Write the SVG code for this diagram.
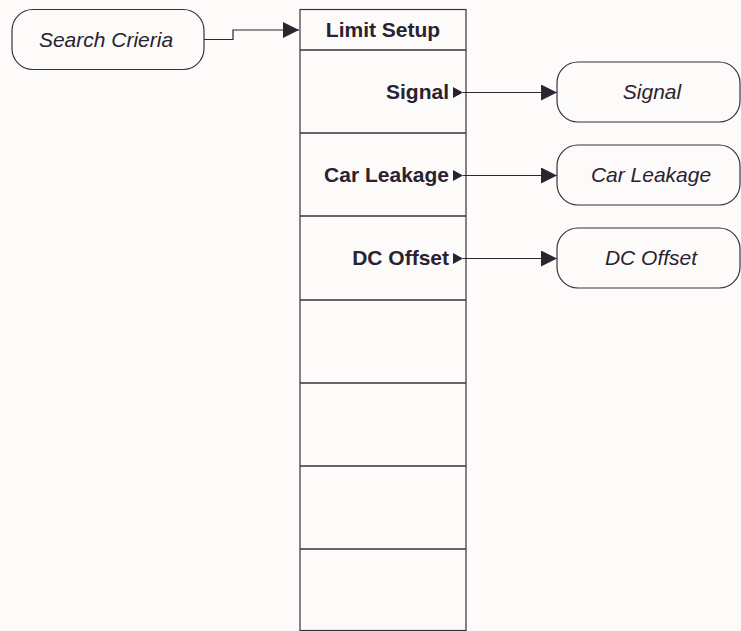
<svg xmlns="http://www.w3.org/2000/svg" width="741" height="631" viewBox="0 0 741 631">
  <defs>
    <style>
      .bg { fill: #fcfbfa; }
      .box { fill: #fcfbfa; stroke: #3a3040; stroke-width: 1.2; }
      .rule { stroke: #3a3040; stroke-width: 1.4; fill: none; }
      .wire { stroke: #2e2430; stroke-width: 1.2; fill: none; }
      .soft { fill: #2a2230; }
      .key { font-family: "Liberation Sans", Arial, sans-serif; font-weight: bold; font-size: 21px; fill: #2a2230; }
      .term { font-family: "Liberation Sans", Arial, sans-serif; font-style: italic; font-size: 21px; fill: #2a2230; text-anchor: middle; }
    </style>
    <marker id="head" markerUnits="userSpaceOnUse" markerWidth="16" markerHeight="16" viewBox="0 0 15 15" refX="15" refY="7.5" orient="auto">
      <path d="M0,0 L15,7.5 L0,15 Z" fill="#2e2430"/>
    </marker>
  </defs>

  <rect class="bg" x="0" y="0" width="741" height="631"/>

  <!-- Source node -->
  <g id="search-criteria">
    <rect class="box" x="12" y="9.5" width="192" height="60" rx="21" ry="21"/>
    <text class="term" x="106" y="47">Search Crieria</text>
  </g>

  <!-- Softkey menu -->
  <g id="limit-setup">
    <rect class="box" x="300" y="9.5" width="166" height="621"/>
    <line class="rule" x1="300" y1="50" x2="466" y2="50"/>
    <line class="rule" x1="300" y1="133" x2="466" y2="133"/>
    <line class="rule" x1="300" y1="216" x2="466" y2="216"/>
    <line class="rule" x1="300" y1="300" x2="466" y2="300"/>
    <line class="rule" x1="300" y1="383" x2="466" y2="383"/>
    <line class="rule" x1="300" y1="466" x2="466" y2="466"/>
    <line class="rule" x1="300" y1="549" x2="466" y2="549"/>
    <text class="key" x="383" y="37" text-anchor="middle">Limit Setup</text>
    <text class="key" x="449" y="99" text-anchor="end">Signal</text>
    <polygon class="soft" points="453,87 463,92.5 453,98"/>
    <text class="key" x="449" y="182" text-anchor="end">Car Leakage</text>
    <polygon class="soft" points="453,170 463,175.5 453,181"/>
    <text class="key" x="449" y="265" text-anchor="end">DC Offset</text>
    <polygon class="soft" points="453,253 463,258.5 453,264"/>
  </g>

  <!-- Target nodes -->
  <g id="signal">
    <rect class="box" x="557" y="62" width="183" height="60" rx="21" ry="21"/>
    <text class="term" x="652" y="99">Signal</text>
  </g>
  <g id="car-leakage">
    <rect class="box" x="557" y="145" width="183" height="60" rx="21" ry="21"/>
    <text class="term" x="651" y="182">Car Leakage</text>
  </g>
  <g id="dc-offset">
    <rect class="box" x="557" y="228" width="183" height="60" rx="21" ry="21"/>
    <text class="term" x="651" y="265">DC Offset</text>
  </g>

  <!-- Connectors -->
  <g id="connectors">
    <polyline class="wire" points="204,39.5 233,39.5 233,30 299,30" marker-end="url(#head)"/>
    <line class="wire" x1="463" y1="92.5" x2="557" y2="92.5" marker-end="url(#head)"/>
    <line class="wire" x1="463" y1="175.5" x2="557" y2="175.5" marker-end="url(#head)"/>
    <line class="wire" x1="463" y1="258.5" x2="557" y2="258.5" marker-end="url(#head)"/>
  </g>
</svg>
